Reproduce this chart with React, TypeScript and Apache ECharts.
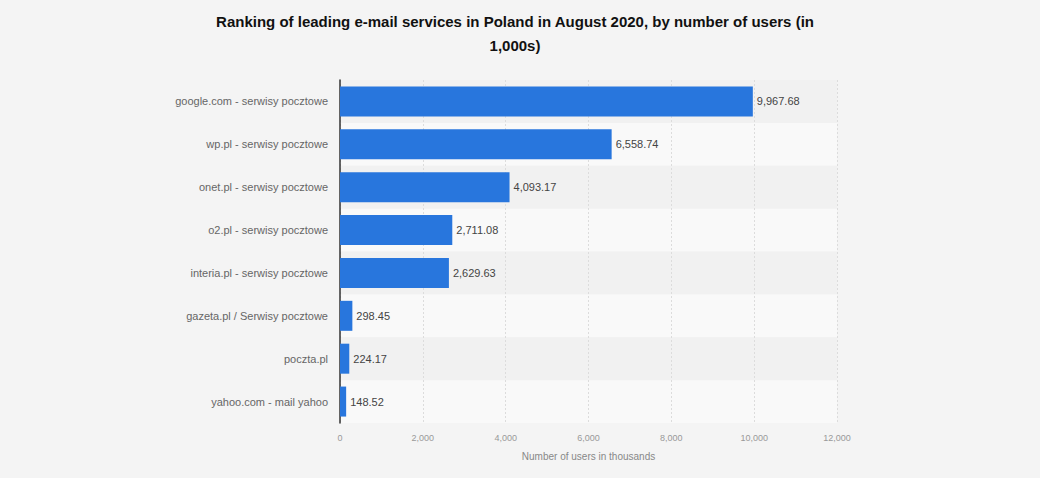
import React, { useEffect, useRef } from "react";
import * as echarts from "echarts";

const CATEGORIES = [
    "google.com - serwisy pocztowe",
    "wp.pl - serwisy pocztowe",
    "onet.pl - serwisy pocztowe",
    "o2.pl - serwisy pocztowe",
    "interia.pl - serwisy pocztowe",
    "gazeta.pl / Serwisy pocztowe",
    "poczta.pl",
    "yahoo.com - mail yahoo",
];
const USERS = [9967.68, 6558.74, 4093.17, 2711.08, 2629.63, 298.45, 224.17, 148.52];
const X_TICKS = [0, 2000, 4000, 6000, 8000, 10000, 12000];

const FONT = "'Liberation Sans', Arial, Helvetica, sans-serif";

const fmt = (v: number, d = 0) =>
    v.toLocaleString("en-US", { minimumFractionDigits: d, maximumFractionDigits: d });

const App: React.FC = () => {
    const ref = useRef<HTMLDivElement | null>(null);

    useEffect(() => {
        document.body.style.margin = "0";
        if (!ref.current) return;
        const inst = echarts.init(ref.current, undefined, { renderer: "svg" });
        inst.setOption({
            animation: false,
            backgroundColor: "#f4f4f4",
            textStyle: { fontFamily: FONT },
            title: {
                text: "Ranking of leading e-mail services in Poland in August 2020, by number of users (in\n1,000s)",
                left: 510,
                top: 4,
                textAlign: "center",
                textStyle: {
                    fontFamily: FONT,
                    fontSize: 15,
                    fontWeight: "bold",
                    color: "#111",
                    lineHeight: 24,
                },
            },
            grid: { left: 340, right: 203, top: 80, bottom: 55, containLabel: false },
            xAxis: {
                type: "value",
                min: X_TICKS[0],
                max: X_TICKS[X_TICKS.length - 1],
                interval: 2000,
                name: "Number of users in thousands",
                nameLocation: "middle",
                nameGap: 28,
                nameTextStyle: { color: "#888", fontSize: 10, fontFamily: FONT },
                axisLine: { show: false },
                axisTick: { show: false },
                axisLabel: {
                    color: "#999",
                    fontSize: 9,
                    margin: 10,
                    formatter: (v: number) => fmt(v),
                },
                splitLine: { show: true, lineStyle: { color: "#dcdcdc", type: [2, 2] } },
            },
            yAxis: {
                type: "category",
                inverse: true,
                data: CATEGORIES,
                axisLine: { show: true, lineStyle: { color: "#333", width: 1.5 } },
                axisTick: { show: false },
                axisLabel: { color: "#666", fontSize: 11, margin: 12 },
                splitArea: { show: true, areaStyle: { color: ["#f1f1f1", "#f9f9f9"] } },
            },
            series: [
                {
                    type: "bar",
                    data: USERS,
                    barWidth: 30,
                    itemStyle: { color: "#2876dd" },
                    label: {
                        show: true,
                        position: "right",
                        distance: 4,
                        color: "#444",
                        fontSize: 11,
                        formatter: (p: any) => fmt(p.value, 2),
                    },
                },
            ],
        });
        return () => inst.dispose();
    }, []);

    return <div ref={ref} style={{ width: 1040, height: 478 }} />;
};

export default App;
